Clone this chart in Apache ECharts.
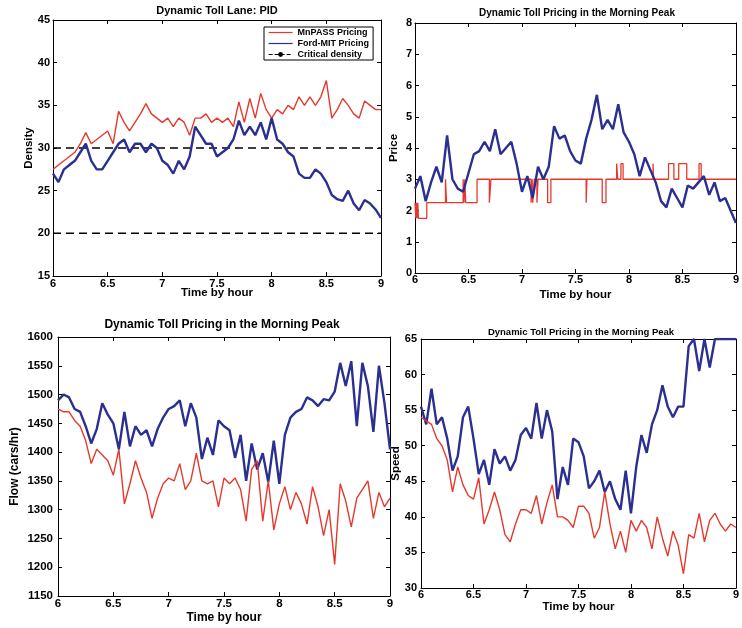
<!DOCTYPE html>
<html>
<head>
<meta charset="utf-8">
<title>Dynamic Toll Pricing in the Morning Peak</title>
<script src="https://cdn.jsdelivr.net/npm/echarts@6/dist/echarts.min.js"></script>
<style>
  html, body { margin: 0; padding: 0; background: #fff; }
  #main { width: 742px; height: 628px; }
</style>
</head>
<body>
<div id="main"></div>
<script>
// sample times (hours), every 3 minutes
const times = [6.00, 6.05, 6.10, 6.15, 6.20, 6.25, 6.30, 6.35, 6.40, 6.45,
  6.50, 6.55, 6.60, 6.65, 6.70, 6.75, 6.80, 6.85, 6.90, 6.95,
  7.00, 7.05, 7.10, 7.15, 7.20, 7.25, 7.30, 7.35, 7.40, 7.45,
  7.50, 7.55, 7.60, 7.65, 7.70, 7.75, 7.80, 7.85, 7.90, 7.95,
  8.00, 8.05, 8.10, 8.15, 8.20, 8.25, 8.30, 8.35, 8.40, 8.45,
  8.50, 8.55, 8.60, 8.65, 8.70, 8.75, 8.80, 8.85, 8.90, 8.95, 9.00]

// density
const densityMnpass = [27.5, 28, 28.5, 29, 29.5, 30.5, 31.8, 30.5, 31, 31.5,
  32, 30.5, 34.3, 33, 32, 33, 34, 35.2, 34, 33.5,
  33, 33.5, 32.5, 33.5, 33, 31.5, 33.5, 33.5, 34, 33,
  33.5, 33, 33.5, 32.5, 35.4, 33, 35.8, 33.5, 36.4, 34.5,
  33.5, 34.5, 34, 35, 34.5, 36, 35, 36, 35, 36,
  37.9, 33.5, 34.5, 35.8, 35, 34, 33.5, 35.5, 35, 34.5, 34.5]
const densityFordMit = [27, 26, 27.5, 28, 28.5, 29.5, 30.5, 28.5, 27.5, 27.5,
  28.5, 29.5, 30.5, 31, 29.5, 30.5, 30.5, 29.5, 30.5, 30,
  28.5, 28, 27, 28.5, 27.5, 29, 32.5, 31.5, 30.5, 30.5,
  29, 29.5, 30, 31, 33.2, 31.5, 32.5, 31.5, 33, 31,
  33.5, 31, 30.5, 29.5, 29, 27, 26.5, 26.5, 27.5, 27,
  26, 24.5, 24, 23.8, 25, 23.5, 22.7, 23.9, 23.5, 22.8, 21.8]
const criticalDensity = [30, 20]

// price ($)
const priceFordMit = [2.7, 3.1, 2.3, 2.9, 3.4, 2.9, 4.4, 3.0, 2.7, 2.6,
  3.2, 3.8, 3.9, 4.2, 3.9, 4.6, 3.8, 4.0, 4.2, 3.5,
  2.6, 3.1, 2.4, 3.4, 3.0, 3.4, 4.7, 4.3, 4.4, 3.9,
  3.6, 3.5, 4.3, 4.9, 5.7, 4.6, 4.9, 4.6, 5.4, 4.5,
  4.2, 3.8, 3.1, 3.7, 3.3, 2.9, 2.3, 2.1, 2.7, 2.4,
  2.1, 2.8, 2.7, 2.9, 3.1, 2.5, 2.9, 2.3, 2.4, 2.0, 1.6]
// MnPASS price is a step function: times where the price changes
const priceMnpassTimes = [6.00, 6.008, 6.014, 6.02, 6.026, 6.032, 6.11, 6.285, 6.295, 6.45,
  6.458, 6.466, 6.474, 6.58, 6.695, 6.71, 7.085, 7.095, 7.10, 7.115,
  7.14, 7.15, 7.24, 7.27, 7.60, 7.607, 7.75, 7.785, 7.885, 7.895,
  7.925, 7.945, 8.225, 8.23, 8.37, 8.42, 8.465, 8.54, 8.655, 8.675, 9.00]
const priceMnpassValues = [2.25, 1.75, 2.25, 1.75, 2.25, 1.75, 2.25, 3, 2.25, 3,
  2.25, 3, 2.25, 3, 2.25, 3, 2.25, 3, 2.25, 3,
  2.25, 3, 2.25, 3, 2.25, 3, 2.25, 3, 3.5, 3,
  3.5, 3, 3.5, 3, 3.5, 3, 3.5, 3, 3.5, 3, 3]

// flow (cars/hr)
const flowMnpass = [1475, 1470, 1470, 1455, 1445, 1420, 1380, 1405, 1395, 1385,
  1360, 1405, 1310, 1345, 1385, 1355, 1330, 1285, 1320, 1345,
  1355, 1350, 1380, 1335, 1350, 1398, 1350, 1345, 1350, 1305,
  1355, 1345, 1355, 1335, 1280, 1370, 1385, 1280, 1350, 1265,
  1310, 1340, 1300, 1330, 1310, 1275, 1340, 1305, 1255, 1300,
  1205, 1345, 1315, 1270, 1320, 1335, 1350, 1285, 1330, 1305, 1320]
const flowFordMit = [1490, 1500, 1495, 1475, 1470, 1445, 1415, 1440, 1485, 1465,
  1450, 1405, 1470, 1410, 1445, 1430, 1438, 1410, 1440, 1460,
  1475, 1480, 1490, 1445, 1485, 1460, 1388, 1425, 1395, 1455,
  1445, 1438, 1390, 1430, 1350, 1415, 1370, 1398, 1348, 1420,
  1345, 1430, 1460, 1470, 1475, 1495, 1490, 1480, 1492, 1490,
  1505, 1555, 1515, 1558, 1445, 1555, 1515, 1435, 1550, 1485, 1405]

// speed (mph)
const speedMnpass = [54, 53.5, 53, 51, 50, 48, 43.5, 47, 44.5, 43,
  42.5, 45.5, 39, 41, 43.5, 41, 37.5, 36.5, 39, 41,
  41, 40.5, 43, 39, 42, 44.5, 40, 40, 39.5, 38.5,
  41.5, 41.5, 40.5, 37, 38.5, 43.5, 39, 35.5, 38, 35,
  39.5, 38, 39.5, 38.5, 35.5, 40, 37, 34.5, 38, 36,
  32, 37.5, 37, 40.5, 36.5, 39.5, 40.5, 39, 38, 39, 38.5]
const speedFordMit = [55.5, 53, 58, 53, 54, 51, 46.5, 48.5, 54, 55.5,
  51, 46, 48, 44.5, 49.5, 47.5, 48.5, 46.5, 48, 51.5,
  52.5, 51, 56, 51, 55, 52, 42.5, 47, 44.5, 51,
  50.5, 48.5, 44, 45, 46.5, 43.5, 45, 42.5, 41, 46.5,
  40.5, 47, 51.5, 49, 53, 55, 58.5, 55.5, 54, 55.5,
  55.5, 64, 65, 60.5, 65, 61, 65, 65, 65, 65, 65]

const xTicks = [6, 9, 0.5]

const FONT = 'Liberation Sans, Arial, Helvetica, sans-serif'
const RED = '#e4392c'
const BLUE = '#2b3090'

function zip(xs, ys) {
  return xs.map((x, i) => [x, ys[i]])
}

// layout of the four panels
const panels = [
  { box: { left: 53, top: 20, width: 328, height: 256 }, yMin: 15, yMax: 45, yInt: 5,
    xName: 'Time by hour', yName: 'Density', xMargin: 2, yMargin: 3, xGap: 11, yGap: 18, fs: 11 },
  { box: { left: 415, top: 23, width: 325, height: 250 }, yMin: 0, yMax: 8, yInt: 1,
    xName: 'Time by hour', yName: 'Price', xMargin: 1, yMargin: 3, xGap: 16, yGap: 15, fs: 11 },
  { box: { left: 58, top: 337, width: 332, height: 259 }, yMin: 1150, yMax: 1600, yInt: 50,
    xName: 'Time by hour', yName: 'Flow (cars/hr)', xMargin: 2, yMargin: 5, xGap: 16, yGap: 37, fs: 11.5 },
  { box: { left: 421, top: 339, width: 325, height: 249 }, yMin: 30, yMax: 65, yInt: 5,
    xName: 'Time by hour', yName: 'Speed', xMargin: 1, yMargin: 4, xGap: 13, yGap: 19, fs: 11 }
]

const grid = []
const xAxis = []
const yAxis = []
const black = { color: '#000', width: 1 }
const plain = v => String(v)

panels.forEach((p, i) => {
  grid.push(Object.assign({ containLabel: false }, p.box))
  const lab = { color: '#000', fontSize: p.fs, fontWeight: 'bold', fontFamily: FONT }
  ;['bottom', 'top'].forEach(pos => {
    xAxis.push({
      gridIndex: i, type: 'value', position: pos,
      min: xTicks[0], max: xTicks[1], interval: xTicks[2],
      axisLine: { show: true, onZero: false, lineStyle: black },
      axisTick: { show: true, inside: true, length: 4, lineStyle: black },
      axisLabel: Object.assign({ show: pos === 'bottom', margin: p.xMargin, formatter: plain }, lab),
      splitLine: { show: false },
      name: pos === 'bottom' ? p.xName : '',
      nameLocation: 'middle', nameGap: p.xGap, nameMoveOverlap: false,
      nameTextStyle: Object.assign({}, lab, { fontSize: p.fs + 0.5 })
    })
  })
  ;['left', 'right'].forEach(pos => {
    yAxis.push({
      gridIndex: i, type: 'value', position: pos,
      min: p.yMin, max: p.yMax, interval: p.yInt,
      axisLine: { show: true, onZero: false, lineStyle: black },
      axisTick: { show: true, inside: true, length: 4, lineStyle: black },
      axisLabel: Object.assign({ show: pos === 'left', margin: p.yMargin, formatter: plain }, lab),
      splitLine: { show: false },
      name: pos === 'left' ? p.yName : '',
      nameLocation: 'middle', nameGap: p.yGap, nameMoveOverlap: false,
      nameTextStyle: Object.assign({}, lab, { fontSize: p.fs + 0.5 })
    })
  })
})

function line(name, panel, data, color, width, z, extra) {
  return Object.assign({
    name: name, type: 'line',
    xAxisIndex: panel * 2, yAxisIndex: panel * 2,
    data: data, symbol: 'none', z: z,
    lineStyle: { color: color, width: width },
    itemStyle: { color: color },
    animation: false
  }, extra || {})
}

const series = [
  line('MnPASS Pricing', 0, zip(times, densityMnpass), RED, 1.4, 2),
  line('Ford-MIT Pricing', 0, zip(times, densityFordMit), BLUE, 2.4, 3),
  line('MnPASS Pricing', 1, zip(priceMnpassTimes, priceMnpassValues), RED, 1.3, 2, { step: 'end' }),
  line('Ford-MIT Pricing', 1, zip(times, priceFordMit), BLUE, 2.4, 3),
  line('Ford-MIT Pricing', 2, zip(times, flowFordMit), BLUE, 2.4, 2),
  line('MnPASS Pricing', 2, zip(times, flowMnpass), RED, 1.4, 3),
  line('Ford-MIT Pricing', 3, zip(times, speedFordMit), BLUE, 2.4, 2),
  line('MnPASS Pricing', 3, zip(times, speedMnpass), RED, 1.4, 3)
]
criticalDensity.forEach(level => {
  series.push(line('Critical density', 0, [[xTicks[0], level], [xTicks[1], level]], '#000', 1.5, 1,
    { lineStyle: { color: '#000', width: 1.5, type: [8, 5] } }))
})

const titles = [
  { text: 'Dynamic Toll Lane: PID', x: 217, y: 11, size: 11 },
  { text: 'Dynamic Toll Pricing in the Morning Peak', x: 577, y: 13, size: 10 },
  { text: 'Dynamic Toll Pricing in the Morning Peak', x: 222, y: 325, size: 12 },
  { text: 'Dynamic Toll Pricing in the Morning Peak', x: 581, y: 332, size: 9.5 }
]

const option = {
  backgroundColor: '#fff',
  animation: false,
  grid: grid,
  xAxis: xAxis,
  yAxis: yAxis,
  legend: {
    data: [
      { name: 'MnPASS Pricing', lineStyle: { width: 1.2 } },
      { name: 'Ford-MIT Pricing', lineStyle: { width: 1.2 } },
      { name: 'Critical density', lineStyle: { width: 1.2, type: [4, 2] },
        itemStyle: { opacity: 1, color: '#000' } }
    ],
    orient: 'vertical', left: 264, top: 27,
    backgroundColor: '#fff', borderColor: '#000', borderWidth: 1,
    padding: [1, 4, 1, 4], itemGap: 2, itemWidth: 24, itemHeight: 6,
    itemStyle: { opacity: 0 },
    textStyle: { color: '#000', fontSize: 9, fontWeight: 'bold', fontFamily: FONT }
  },
  graphic: titles.map(t => ({
    type: 'text', x: t.x, y: t.y, z: 100,
    style: {
      text: t.text, fill: '#000', font: 'bold ' + t.size + 'px ' + FONT,
      align: 'center', verticalAlign: 'middle', textAlign: 'center', textVerticalAlign: 'middle'
    }
  })),
  series: series
}

const chart = echarts.init(document.getElementById('main'))
chart.setOption(option)
</script>
</body>
</html>
